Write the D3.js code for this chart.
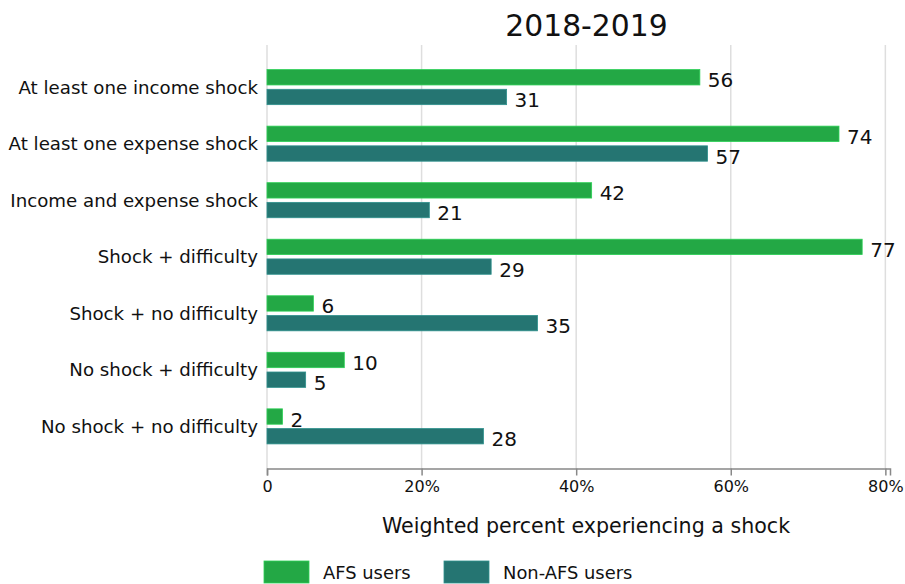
<!DOCTYPE html>
<html>
<head>
<meta charset="utf-8">
<script src="https://cdn.jsdelivr.net/npm/d3@7"></script>
<style>
  body { margin: 0; background: #fff; }
  text { font-family: "DejaVu Sans", sans-serif; fill: #111; }
</style>
</head>
<body>
<div id="chart"></div>
<script>
// data
const categories = [
  "At least one income shock",
  "At least one expense shock",
  "Income and expense shock",
  "Shock + difficulty",
  "Shock + no difficulty",
  "No shock + difficulty",
  "No shock + no difficulty"
];
const groups = ["AFS users", "Non-AFS users"];
const afsValues = [56, 74, 42, 77, 6, 10, 2];
const nonAfsValues = [31, 57, 21, 29, 35, 5, 28];
const xTicks = [0, 20, 40, 60, 80];
const colors = ["#23a845", "#257572"];
const title = "2018-2019";
const xTitle = "Weighted percent experiencing a shock";

const width = 905, height = 584;
const plotTop = 45, plotBottom = 468.5, plotLeft = 267, plotRight = 890;

const svg = d3.select("#chart").append("svg")
  .attr("width", width)
  .attr("height", height);

const x = d3.scaleLinear().domain([0, 80.6]).range([plotLeft, plotRight]);

const y = d3.scaleBand()
  .domain(categories)
  .range([plotTop, plotBottom])
  .paddingInner(0.38)
  .paddingOuter(0.435);

const ySub = d3.scaleBand()
  .domain(groups)
  .range([0, y.bandwidth()])
  .paddingInner(0.22);

// gridlines
svg.append("g")
  .selectAll("line")
  .data(xTicks)
  .join("line")
  .attr("x1", d => x(d))
  .attr("x2", d => x(d))
  .attr("y1", plotTop)
  .attr("y2", plotBottom)
  .attr("stroke", "#dedede")
  .attr("stroke-width", 1.5);

// bars
const rows = categories.map((c, i) => ({ cat: c, vals: [afsValues[i], nonAfsValues[i]] }));

const grp = svg.append("g")
  .selectAll("g")
  .data(rows)
  .join("g")
  .attr("transform", d => `translate(0,${y(d.cat)})`);

grp.selectAll("rect")
  .data(d => d.vals.map((v, j) => ({ v: v, g: groups[j], j: j })))
  .join("rect")
  .attr("x", x(0))
  .attr("y", d => ySub(d.g))
  .attr("width", d => x(d.v) - x(0))
  .attr("height", ySub.bandwidth())
  .attr("fill", d => colors[d.j])
  .attr("stroke", d => d3.color(colors[d.j]).brighter(0.6))
  .attr("stroke-width", 0.8);

grp.selectAll("text")
  .data(d => d.vals.map((v, j) => ({ v: v, g: groups[j] })))
  .join("text")
  .attr("x", d => x(d.v) + 8)
  .attr("y", d => ySub(d.g) + ySub.bandwidth() / 2 + 10)
  .style("font-size", "20px")
  .text(d => d.v);

// category labels
svg.append("g")
  .selectAll("text")
  .data(categories)
  .join("text")
  .attr("x", plotLeft - 9)
  .attr("y", d => y(d) + y.bandwidth() / 2 + 6.5)
  .attr("text-anchor", "end")
  .style("font-size", "18.2px")
  .text(d => d);

// x axis
const xAxis = d3.axisBottom(x)
  .tickValues(xTicks)
  .tickSize(7)
  .tickPadding(5)
  .tickFormat(d => d === 0 ? "0" : d + "%");

const ax = svg.append("g")
  .attr("transform", `translate(0,${plotBottom})`)
  .call(xAxis);
ax.select(".domain").attr("stroke", "#888").attr("stroke-width", 1.5);
ax.selectAll(".tick line").attr("stroke", "#888").attr("stroke-width", 1.5);
ax.selectAll(".tick text")
  .style("font-family", "DejaVu Sans, sans-serif")
  .style("font-size", "16px")
  .attr("fill", "#111");

// axis title
svg.append("text")
  .attr("x", 586)
  .attr("y", 533)
  .attr("text-anchor", "middle")
  .style("font-size", "20.6px")
  .text(xTitle);

// chart title
svg.append("text")
  .attr("x", 586.5)
  .attr("y", 36)
  .attr("text-anchor", "middle")
  .style("font-size", "29.8px")
  .text(title);

// legend
const legendX = [264, 444];
const leg = svg.append("g")
  .selectAll("g")
  .data(groups)
  .join("g")
  .attr("transform", (d, i) => `translate(${legendX[i]},561)`);
leg.append("rect")
  .attr("width", 45)
  .attr("height", 22)
  .attr("fill", (d, i) => colors[i])
  .attr("stroke", (d, i) => d3.color(colors[i]).brighter(0.6))
  .attr("stroke-width", 0.8);
leg.append("text")
  .attr("x", 59)
  .attr("y", 18)
  .style("font-size", "17.9px")
  .text(d => d);
</script>
</body>
</html>
